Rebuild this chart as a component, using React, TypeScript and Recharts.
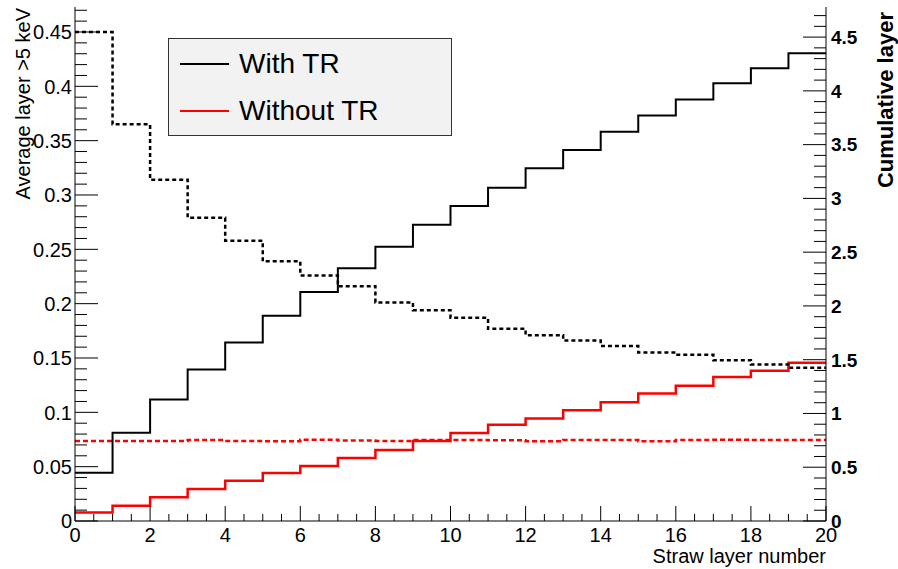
import React from 'react';
import { LineChart, Line, XAxis, YAxis, Legend } from 'recharts';

// bin edges and per-bin values
const layerEdges = [0, 1, 2, 3, 4, 5, 6, 7, 8, 9, 10, 11, 12, 13, 14, 15, 16, 17, 18, 19, 20];
const avgWithTR = [0.45, 0.365, 0.314, 0.279, 0.258, 0.239, 0.226, 0.216, 0.201, 0.194, 0.187, 0.177, 0.171, 0.166, 0.161, 0.155, 0.153, 0.148, 0.144, 0.141];
const cumWithTR = [0.449, 0.82, 1.13, 1.41, 1.66, 1.908, 2.13, 2.35, 2.55, 2.754, 2.93, 3.1, 3.28, 3.45, 3.62, 3.77, 3.92, 4.07, 4.21, 4.35];
const avgWithoutTR = [0.0737, 0.0737, 0.0737, 0.0745, 0.0737, 0.0735, 0.0748, 0.074, 0.0737, 0.0746, 0.0746, 0.0742, 0.0733, 0.0746, 0.0746, 0.0735, 0.0746, 0.0748, 0.0746, 0.0746];
const cumWithoutTR = [0.08, 0.142, 0.22, 0.297, 0.375, 0.446, 0.511, 0.585, 0.66, 0.745, 0.818, 0.895, 0.954, 1.03, 1.105, 1.185, 1.258, 1.338, 1.397, 1.471];

const leftMajor = [0, 0.05, 0.1, 0.15, 0.2, 0.25, 0.3, 0.35, 0.4, 0.45];
const rightMajor = [0, 0.5, 1, 1.5, 2, 2.5, 3, 3.5, 4, 4.5];
const xMajor = [0, 2, 4, 6, 8, 10, 12, 14, 16, 18, 20];

// minor ticks (unlabelled)
const leftTicks = Array.from({ length: 48 }, (_, i) => +(i * 0.01).toFixed(2));
const rightTicks = Array.from({ length: 48 }, (_, i) => +(i * 0.1).toFixed(1));
const xTicks = Array.from({ length: 41 }, (_, i) => i * 0.5);

// last edge repeats the last bin so stepAfter closes the histogram
const rows = layerEdges.map((x, i) => {
  const b = Math.min(i, avgWithTR.length - 1);
  return {
    x,
    avgTR: avgWithTR[b],
    cumTR: cumWithTR[b],
    avgNoTR: avgWithoutTR[b],
    cumNoTR: cumWithoutTR[b],
  };
});

const W = 898;
const H = 569;
const LEFT = 75;
const RIGHT = 826;
const TOP = 7;
const BOTTOM = 521;
const FONT = '"Liberation Sans", Arial, Helvetica, sans-serif';

const isMajor = (v: number, list: number[]) => list.some((m) => Math.abs(m - v) < 1e-6);

const LeftTick = (props: any) => {
  const { y, payload } = props;
  const v = payload.value;
  const major = isMajor(v, leftMajor);
  return (
    <g>
      <line x1={LEFT} x2={LEFT + (major ? 23 : 12)} y1={y} y2={y} stroke="#000" strokeWidth={1} />
      {major && (
        <text x={LEFT - 3} y={y} dy="0.36em" textAnchor="end" fontSize={20} fontFamily={FONT} fill="#000">
          {String(v)}
        </text>
      )}
    </g>
  );
};

const RightTick = (props: any) => {
  const { y, payload } = props;
  const v = payload.value;
  const major = isMajor(v, rightMajor);
  return (
    <g>
      <line x1={RIGHT - (major ? 23 : 12)} x2={RIGHT} y1={y} y2={y} stroke="#000" strokeWidth={1} />
      {major && (
        <text x={RIGHT + 5} y={y} dy="0.36em" textAnchor="start" fontSize={19} fontWeight="bold" fontFamily={FONT} fill="#000">
          {String(v)}
        </text>
      )}
    </g>
  );
};

const BottomTick = (props: any) => {
  const { x, payload } = props;
  const v = payload.value;
  const major = isMajor(v, xMajor);
  return (
    <g>
      <line x1={x} x2={x} y1={BOTTOM} y2={BOTTOM - (major ? 15 : 7)} stroke="#000" strokeWidth={1} />
      {major && (
        <text x={x} y={BOTTOM + 21} textAnchor="middle" fontSize={20} fontFamily={FONT} fill="#000">
          {String(v)}
        </text>
      )}
    </g>
  );
};

const LeftTitle = () => (
  <text transform={`translate(30,${TOP + 1}) rotate(-90)`} textAnchor="end" fontSize={20} fontFamily={FONT} fill="#000">
    Average layer &gt;5 keV
  </text>
);

const RightTitle = () => (
  <text transform={`translate(893,12) rotate(-90)`} textAnchor="end" fontSize={22} fontWeight="bold" fontFamily={FONT} fill="#000">
    Cumulative layer
  </text>
);

const BottomTitle = () => (
  <text x={RIGHT} y={563} textAnchor="end" fontSize={20} fontFamily={FONT} fill="#000">
    Straw layer number
  </text>
);

const legendItems = [
  { label: 'With TR', color: '#000000' },
  { label: 'Without TR', color: '#ff0000' },
];

const LegendBox = () => (
  <div
    style={{
      boxSizing: 'border-box',
      width: 284,
      height: 98,
      border: '1px solid #333',
      background: '#f2f2f2',
      fontFamily: FONT,
      fontSize: 28,
      color: '#000',
      paddingTop: 1,
    }}
  >
    {legendItems.map((it) => (
      <div key={it.label} style={{ display: 'flex', alignItems: 'center', height: 47 }}>
        <div style={{ width: 49, height: 2, background: it.color, marginLeft: 11, marginRight: 10 }} />
        <span style={{ lineHeight: '28px' }}>{it.label}</span>
      </div>
    ))}
  </div>
);

export default function App() {
  return (
    <div style={{ position: 'absolute', left: 0, top: 0, background: '#fff' }}>
      <LineChart width={W} height={H} data={rows} margin={{ top: TOP, right: 0, bottom: 0, left: 0 }}>
        <XAxis
          dataKey="x"
          type="number"
          domain={[0, 20]}
          ticks={xTicks}
          interval={0}
          height={H - BOTTOM}
          tickLine={false}
          axisLine={{ stroke: '#000' }}
          tick={(p: any) => <BottomTick {...p} />}
          label={<BottomTitle />}
        />
        <XAxis
          xAxisId="top"
          orientation="top"
          type="number"
          dataKey="x"
          domain={[0, 20]}
          height={0}
          tick={false}
          tickLine={false}
          axisLine={{ stroke: '#000' }}
        />
        <YAxis
          yAxisId="left"
          type="number"
          domain={[0, 0.473]}
          allowDataOverflow
          ticks={leftTicks}
          interval={0}
          width={LEFT}
          tickLine={false}
          axisLine={{ stroke: '#000' }}
          tick={(p: any) => <LeftTick {...p} />}
          label={<LeftTitle />}
        />
        <YAxis
          yAxisId="right"
          orientation="right"
          type="number"
          domain={[0, 4.78]}
          allowDataOverflow
          ticks={rightTicks}
          interval={0}
          width={W - RIGHT}
          tickLine={false}
          axisLine={{ stroke: '#000' }}
          tick={(p: any) => <RightTick {...p} />}
          label={<RightTitle />}
        />
        <Legend
          layout="vertical"
          align="center"
          verticalAlign="middle"
          wrapperStyle={{ left: 168, top: 38, width: 284, height: 98 }}
          content={() => <LegendBox />}
        />
        <Line yAxisId="left" type="stepAfter" dataKey="avgNoTR" stroke="#ff0000" strokeWidth={2.5} strokeDasharray="5 3" dot={false} activeDot={false} isAnimationActive={false} />
        <Line yAxisId="right" type="stepAfter" dataKey="cumNoTR" stroke="#ff0000" strokeWidth={2.5} dot={false} activeDot={false} isAnimationActive={false} />
        <Line yAxisId="left" type="stepAfter" dataKey="avgTR" stroke="#000000" strokeWidth={2.5} strokeDasharray="4 3" dot={false} activeDot={false} isAnimationActive={false} />
        <Line yAxisId="right" type="stepAfter" dataKey="cumTR" stroke="#000000" strokeWidth={2} dot={false} activeDot={false} isAnimationActive={false} />
      </LineChart>
    </div>
  );
}
